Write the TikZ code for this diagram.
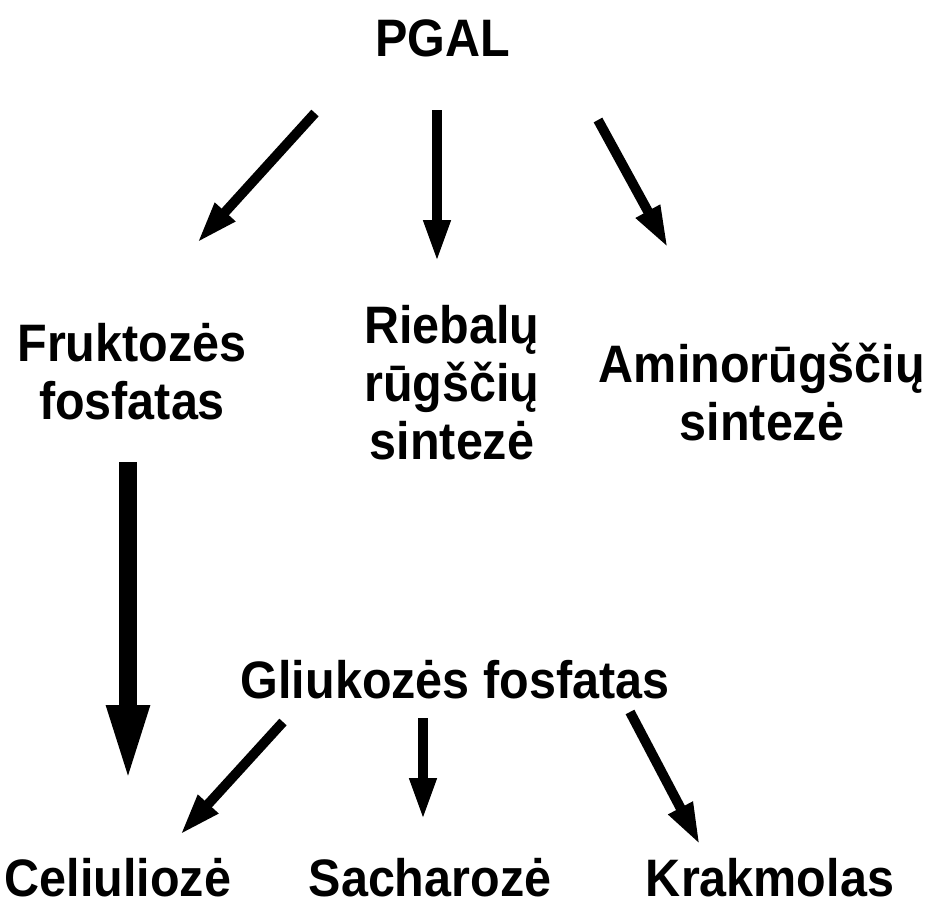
\documentclass[tikz,border=0pt]{standalone}
\usepackage{fontspec}
\setmainfont{Liberation Sans}[FakeStretch=0.92]
\usetikzlibrary{arrows.meta}
\begin{document}
\begin{tikzpicture}[font=\bfseries\fontsize{15}{16.5}\selectfont,
  lbl/.style={align=center, inner sep=0pt},
  arr/.style={line width=2.8pt, -{Triangle[length=0.42cm, width=0.25cm]}},
  bigarr/.style={line width=5.2pt, -{Triangle[length=0.8cm, width=0.38cm]}}]
  \useasboundingbox (0,0) rectangle (9.34,9.08);
  % nodes
  \node[lbl] (pgal) at (4.43,8.70) {PGAL};
  \node[lbl] (fruk) at (1.32,5.36) {Fruktozės\\fosfatas};
  \node[lbl] (rieb) at (4.52,5.25) {Riebalų\\rūgščių\\sintezė};
  \node[lbl] (amino) at (7.62,5.16) {Aminorūgščių\\sintezė};
  \node[lbl] (gliu) at (4.55,2.28) {Gliukozės fosfatas};
  \node[lbl, anchor=base] (celi) at (1.18,0.12) {Celiuliozė};
  \node[lbl, anchor=base] (sach) at (4.30,0.12) {Sacharozė};
  \node[lbl, anchor=base] (krak) at (7.70,0.12) {Krakmolas};
  % arrow ends
  \coordinate (a1s) at (3.15,7.95); \coordinate (a1e) at (1.97,6.65);
  \coordinate (a2s) at (4.37,7.98); \coordinate (a2e) at (4.37,6.46);
  \coordinate (a3s) at (5.98,7.88); \coordinate (a3e) at (6.68,6.60);
  \coordinate (b1s) at (2.83,1.86); \coordinate (b1e) at (1.80,0.73);
  \coordinate (b2s) at (4.23,1.90); \coordinate (b2e) at (4.23,0.88);
  \coordinate (b3s) at (6.30,1.96); \coordinate (b3e) at (7.00,0.63);
  \coordinate (cs) at (1.28,4.46); \coordinate (ce) at (1.28,1.23);
  \foreach \s/\e in {a1s/a1e, a2s/a2e, a3s/a3e, b1s/b1e, b2s/b2e, b3s/b3e}
    {\draw[arr] (\s) -- (\e);}
  \draw[bigarr] (cs) -- (ce);
\end{tikzpicture}
\end{document}
